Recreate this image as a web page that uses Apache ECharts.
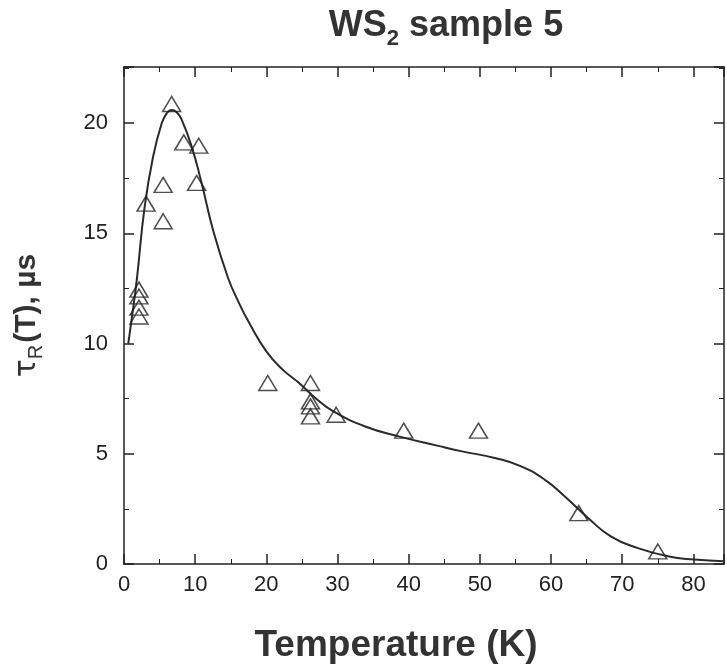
<!DOCTYPE html>
<html>
<head>
<meta charset="utf-8">
<title>WS2 sample 5</title>
<script src="https://cdn.jsdelivr.net/npm/echarts@6/dist/echarts.min.js"></script>
<style>
  html, body { margin: 0; padding: 0; background: #fff; }
  #chart { width: 727px; height: 669px; }
</style>
</head>
<body>
<div id="chart"></div>
<script>
// measured points (triangles)
var tempPoints = [2.1, 2.1, 2.1, 2.1, 3.1, 5.5, 5.5, 6.7, 8.4, 10.2, 10.5, 20.2, 26.2, 26.2, 26.2, 26.2, 29.8, 39.3, 49.8, 63.9, 75.0]
var tauPoints = [12.45, 12.14, 11.63, 11.23, 16.35, 17.2, 15.55, 20.87, 19.13, 17.29, 18.98, 8.21, 8.21, 7.38, 7.15, 6.70, 6.77, 6.05, 6.05, 2.31, 0.57]

// fitted curve
var tempFit = [0.6, 1.2, 1.8, 2.9, 4.1, 5.3, 6.0, 6.7, 7.4, 8.1, 9.5, 10.9, 12.5, 14.6, 16.0, 17.6, 20.0, 22.3, 24.6, 27.0, 29.3, 33.9, 38.6, 44.0, 47.5, 52.1, 55.8, 59.1, 61.9, 65.2, 68.4, 72.1, 76.4, 80.1, 84.3]
var tauFit = [10.0, 11.4, 12.9, 16.2, 18.5, 20.0, 20.45, 20.6, 20.5, 20.16, 18.95, 17.29, 15.17, 13.0, 11.95, 10.93, 9.65, 8.82, 8.21, 7.5, 6.95, 6.24, 5.79, 5.37, 5.11, 4.81, 4.43, 3.83, 3.07, 2.09, 1.25, 0.73, 0.35, 0.2, 0.12]

var xTickStep = 10
var yTickStep = 5

var pointData = tempPoints.map(function (t, i) { return [t, tauPoints[i]] })
var fitData = tempFit.map(function (t, i) { return [t, tauFit[i]] })

var myChart = echarts.init(document.getElementById('chart'))
var fontName = 'Liberation Sans, Arial, sans-serif'
var labelFont = { color: '#222', fontSize: 22, fontFamily: fontName }
var axisLine = { onZero: false, lineStyle: { color: '#222', width: 1.5 } }
var majorTick = { inside: true, length: 10, lineStyle: { color: '#222', width: 1.5 } }
var minorTick = { show: true, splitNumber: 2, length: 5, lineStyle: { color: '#222' } }

myChart.setOption({
  animation: false,
  title: {
    text: '{a|WS}{s|2}{a| sample 5}',
    left: 441,
    textAlign: 'center',
    top: -3,
    textStyle: {
      rich: {
        a: { fontSize: 36, fontWeight: 'bold', color: '#333', fontFamily: fontName },
        s: { fontSize: 22, fontWeight: 'bold', color: '#333', fontFamily: fontName, padding: [26, 0, 0, 0] }
      }
    }
  },
  grid: { left: 124, right: 0, top: 67, bottom: 105 },
  xAxis: [
    {
      type: 'value',
      min: 0,
      max: 84.3,
      interval: xTickStep,
      name: 'Temperature (K)',
      nameLocation: 'middle',
      nameGap: 63,
      nameTextStyle: { fontSize: 37, fontWeight: 'bold', color: '#333', fontFamily: fontName, padding: [0, 56, 0, 0] },
      axisLine: axisLine,
      axisTick: majorTick,
      minorTick: minorTick,
      splitLine: { show: false },
      axisLabel: Object.assign({ margin: 10, formatter: function (v) { return v % 10 === 0 ? v : '' } }, labelFont)
    },
    {
      type: 'value',
      position: 'top',
      min: 0,
      max: 84.3,
      interval: xTickStep,
      axisLine: axisLine,
      axisTick: majorTick,
      minorTick: minorTick,
      splitLine: { show: false },
      axisLabel: { show: false }
    }
  ],
  yAxis: [
    {
      type: 'value',
      min: 0,
      max: 22.55,
      interval: yTickStep,
      name: '{t|τ}{r|R}{b|(T), µs}',
      nameLocation: 'middle',
      nameRotate: 90,
      nameGap: 78,
      nameTextStyle: {
        rich: {
          t: { fontSize: 30, color: '#333', fontFamily: 'DejaVu Sans, sans-serif' },
          r: { fontSize: 20, color: '#333', fontFamily: fontName, padding: [18, 2, 0, 0] },
          b: { fontSize: 30, fontWeight: 'bold', color: '#333', fontFamily: fontName }
        }
      },
      axisLine: axisLine,
      axisTick: majorTick,
      minorTick: minorTick,
      splitLine: { show: false },
      axisLabel: Object.assign({ margin: 16, formatter: function (v) { return v % 5 === 0 ? v : '' } }, labelFont)
    },
    {
      type: 'value',
      position: 'right',
      min: 0,
      max: 22.55,
      interval: yTickStep,
      axisLine: Object.assign({ show: true }, axisLine),
      axisTick: majorTick,
      minorTick: minorTick,
      splitLine: { show: false },
      axisLabel: { show: false }
    }
  ],
  series: [
    {
      type: 'line',
      data: fitData,
      smooth: 0.5,
      showSymbol: false,
      lineStyle: { color: '#2a2a2a', width: 2 },
      z: 2
    },
    {
      type: 'scatter',
      data: pointData,
      symbol: 'triangle',
      symbolSize: [18, 15],
      itemStyle: { color: 'rgba(255,255,255,0)', borderColor: '#222', borderWidth: 1.5 },
      z: 3
    }
  ]
})
</script>
</body>
</html>
